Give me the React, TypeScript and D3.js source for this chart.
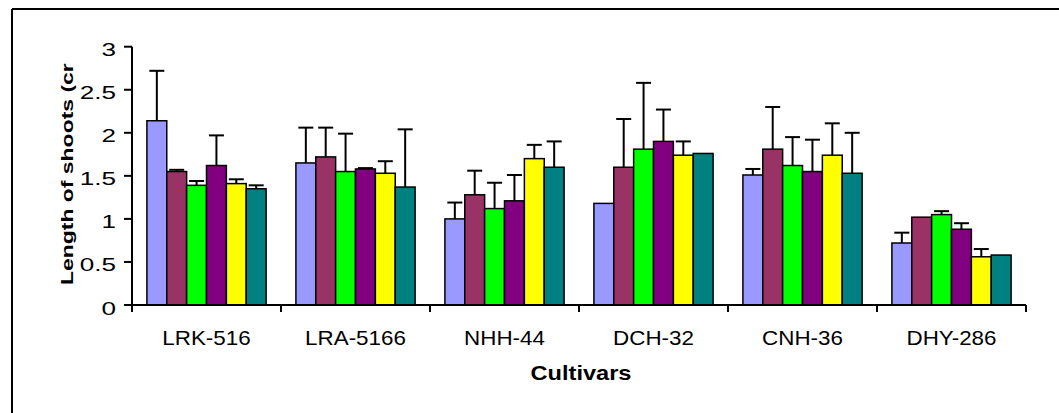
import React from 'react';
import * as d3 from 'd3';

// cultivars on the x axis
const cultivars = ['LRK-516', 'LRA-5166', 'NHH-44', 'DCH-32', 'CNH-36', 'DHY-286'];

// six treatments, one colour each (no legend in the picture)
const seriesNames = ['T1', 'T2', 'T3', 'T4', 'T5', 'T6'];
const seriesColors = ['#9999FF', '#993366', '#00FF00', '#800080', '#FFFF00', '#008080'];

// mean shoot length per treatment, in cultivar order
const t1 = [2.14, 1.65, 1.0, 1.18, 1.51, 0.72];
const t2 = [1.55, 1.72, 1.28, 1.6, 1.81, 1.02];
const t3 = [1.39, 1.55, 1.12, 1.81, 1.62, 1.05];
const t4 = [1.62, 1.58, 1.21, 1.9, 1.55, 0.88];
const t5 = [1.41, 1.53, 1.7, 1.74, 1.74, 0.56];
const t6 = [1.35, 1.37, 1.6, 1.76, 1.53, 0.58];

// upper error (+) per treatment
const e1 = [0.58, 0.41, 0.19, 0, 0.07, 0.12];
const e2 = [0.02, 0.34, 0.28, 0.56, 0.49, 0];
const e3 = [0.05, 0.44, 0.3, 0.77, 0.33, 0.04];
const e4 = [0.35, 0.01, 0.3, 0.37, 0.37, 0.07];
const e5 = [0.05, 0.14, 0.16, 0.16, 0.37, 0.09];
const e6 = [0.04, 0.67, 0.3, 0, 0.47, 0];

const yTicks = [0, 0.5, 1, 1.5, 2, 2.5, 3];

const values = [t1, t2, t3, t4, t5, t6];
const errors = [e1, e2, e3, e4, e5, e6];

const width = 1059;
const height = 413;
const margin = { top: 46.7, right: 33, bottom: 108, left: 132 };
const font = 'Liberation Sans, Arial, sans-serif';

const App = () => {
  const x = d3.scaleBand()
    .domain(cultivars)
    .range([margin.left, width - margin.right])
    .paddingInner(0.2)
    .paddingOuter(0.1);

  const xs = d3.scaleBand()
    .domain(seriesNames)
    .range([0, x.bandwidth()]);

  const y = d3.scaleLinear()
    .domain([0, 3])
    .range([height - margin.bottom, margin.top]);

  const half = (x.step() - x.bandwidth()) / 2;
  const xTicks = cultivars.map(c => x(c) - half).concat([width - margin.right]);
  const y0 = y(0);
  const capW = 15;

  return (
    <svg width={width} height={height} style={{ position: 'absolute', left: 0, top: 0, background: '#fff' }}>
      {/* outer frame, cut by the right and bottom edges */}
      <line x1={12} y1={9} x2={width + 5} y2={9} stroke="#000" strokeWidth={2} />
      <line x1={12} y1={9} x2={12} y2={height + 5} stroke="#000" strokeWidth={2} />

      {/* bars */}
      {cultivars.map((c, ci) => (
        <g key={c}>
          {seriesNames.map((s, si) => (
            <rect
              key={s}
              x={x(c) + xs(s)}
              y={y(values[si][ci])}
              width={xs.bandwidth()}
              height={y0 - y(values[si][ci])}
              fill={seriesColors[si]}
              stroke="#000"
              strokeWidth={1.5}
            />
          ))}
        </g>
      ))}

      {/* error bars (plus only) */}
      {cultivars.map((c, ci) => (
        <g key={c + '-err'} stroke="#000" strokeWidth={2}>
          {seriesNames.map((s, si) => {
            const err = errors[si][ci];
            if (!err) return null;
            const cx = x(c) + xs(s) + xs.bandwidth() / 2;
            const top = y(values[si][ci] + err);
            return (
              <g key={s}>
                <line x1={cx} x2={cx} y1={y(values[si][ci])} y2={top} />
                <line x1={cx - capW / 2} x2={cx + capW / 2} y1={top} y2={top} />
              </g>
            );
          })}
        </g>
      ))}

      {/* y axis */}
      <line x1={margin.left} x2={margin.left} y1={y(3)} y2={y0} stroke="#000" strokeWidth={2} />
      {yTicks.map(t => (
        <g key={t}>
          <line x1={margin.left - 8} x2={margin.left} y1={y(t)} y2={y(t)} stroke="#000" strokeWidth={2} />
          <text
            transform={`translate(116,${y(t) + 9.5}) scale(1.45,1)`}
            textAnchor="end"
            fontFamily={font}
            fontSize={18}
            fill="#000"
          >
            {String(t)}
          </text>
        </g>
      ))}

      {/* x axis */}
      <line x1={margin.left} x2={width - margin.right} y1={y0} y2={y0} stroke="#000" strokeWidth={2} />
      {xTicks.map((tx, i) => (
        <line key={i} x1={tx} x2={tx} y1={y0} y2={y0 + 7} stroke="#000" strokeWidth={2} />
      ))}
      {cultivars.map(c => (
        <text
          key={c}
          transform={`translate(${x(c) + x.bandwidth() / 2},345) scale(1.12,1)`}
          textAnchor="middle"
          fontFamily={font}
          fontSize={20}
          fill="#000"
        >
          {c}
        </text>
      ))}

      {/* axis titles */}
      <text
        transform="translate(581,380) scale(1.18,1)"
        textAnchor="middle"
        fontFamily={font}
        fontSize={20}
        fontWeight="bold"
        fill="#000"
      >
        Cultivars
      </text>
      <text
        transform="translate(72.5,285) rotate(-90) scale(1.35,1)"
        textAnchor="start"
        fontFamily={font}
        fontSize={17}
        fontWeight="bold"
        fill="#000"
      >
        Length of shoots (cr
      </text>
    </svg>
  );
};

export default App;
